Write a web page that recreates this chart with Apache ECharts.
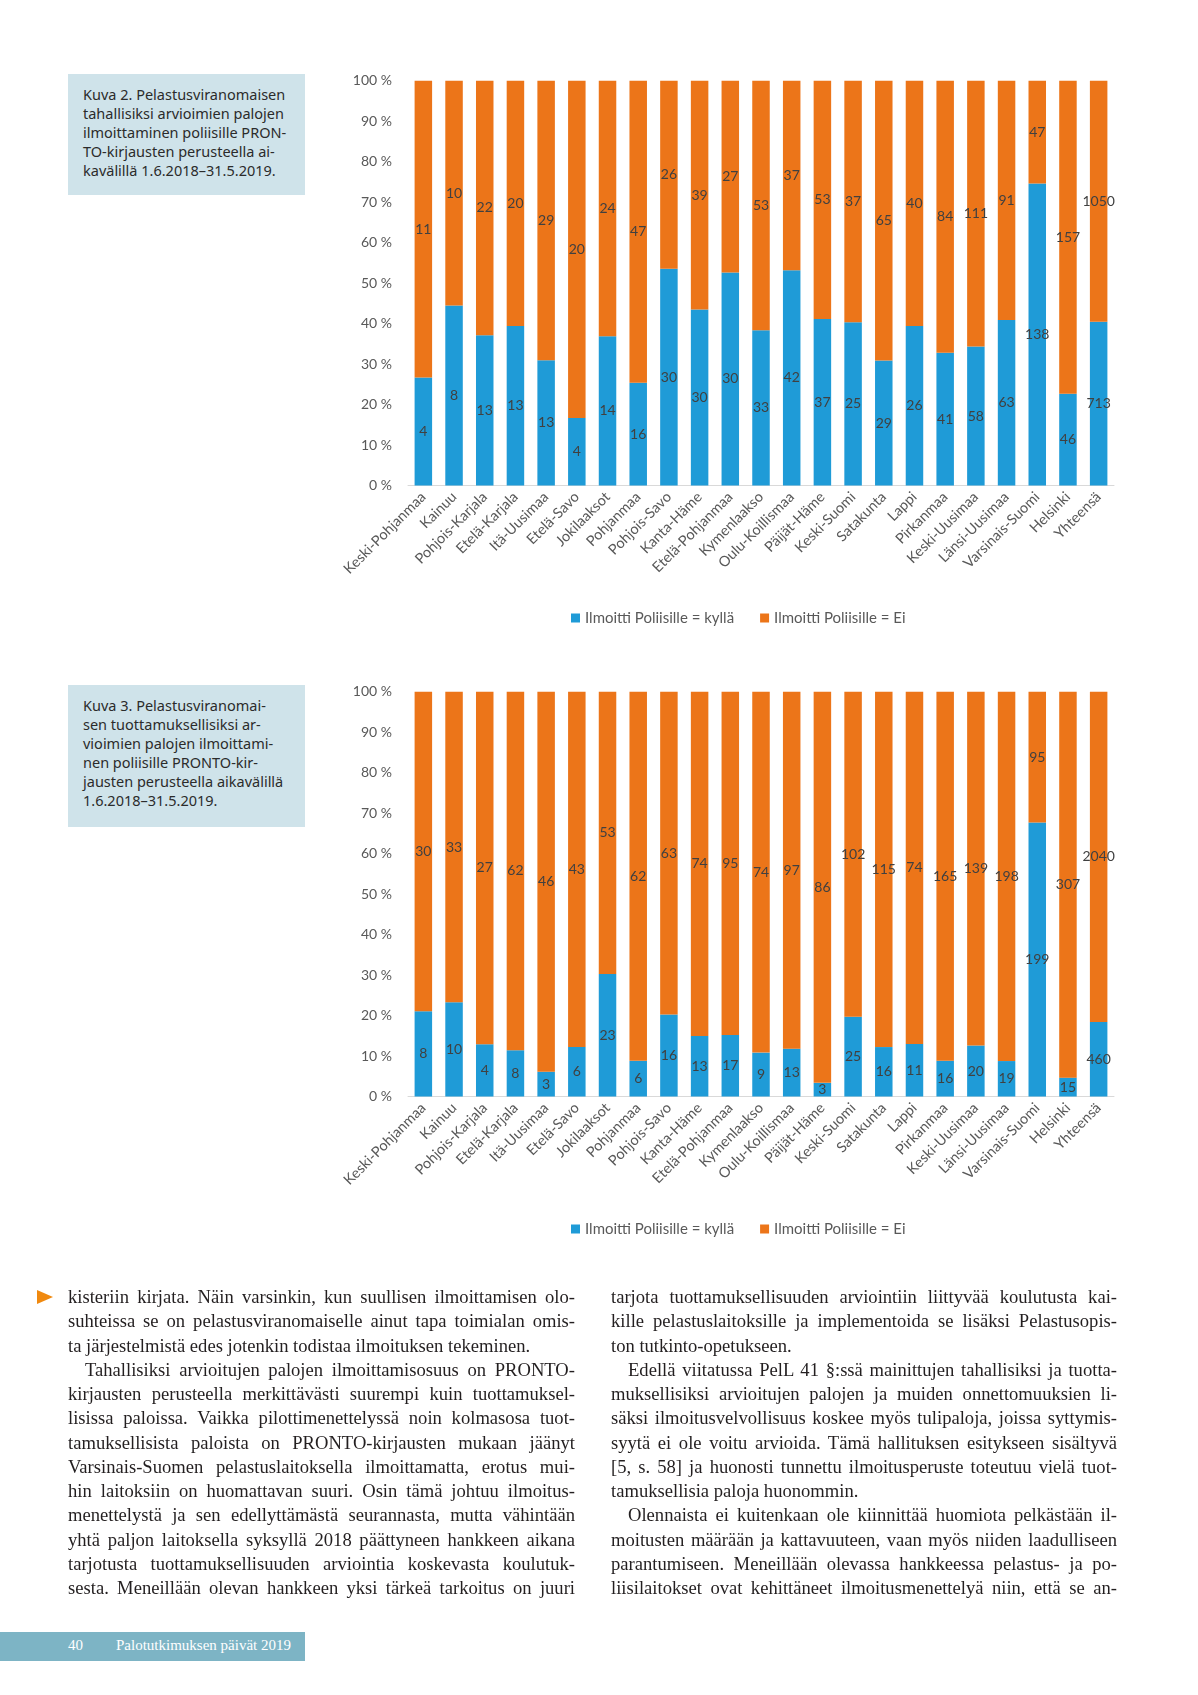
<!DOCTYPE html>
<html>
<head>
<meta charset="utf-8">
<script src="https://cdn.jsdelivr.net/npm/echarts@6/dist/echarts.min.js"></script>
<style>
  html, body { margin:0; padding:0; background:#fff; }
  #page { position:relative; width:1198px; height:1695px; overflow:hidden; background:#fff; }
  #chart { position:absolute; left:0; top:0; width:1198px; height:1695px; }
  .cap { position:absolute; left:68px; width:237px; background:#cfe3ea; box-sizing:border-box;
         padding:11px 0 0 15px; font-family:"Noto Sans", "Open Sans", sans-serif; font-size:14.5px;
         line-height:19px; color:#2b2b2b; white-space:pre; }
  .col { position:absolute; top:1285px; font-family:"Liberation Serif", serif; font-size:18.6px;
         line-height:24.25px; color:#231f20; }
  .col div { white-space:nowrap; }
  .col .j { text-align:justify; text-align-last:justify; }
  .col .l { text-align:left; }
  .col .ind { text-indent:17px; }
  #arrow { position:absolute; left:37px; top:1290px; width:0; height:0;
           border-top:7px solid transparent; border-bottom:7px solid transparent; border-left:16px solid #f0890f; }
  #footer { position:absolute; left:0; top:1632px; width:305px; height:29px; background:#7db4c5; }
  #footer span { position:absolute; top:5px; color:#fff; font-family:"Liberation Serif", serif; font-size:15px; }
</style>
</head>
<body>
<div id="page">
  <div id="chart"></div>
  <div class="cap" style="top:74px;height:121px;">Kuva 2. Pelastusviranomaisen
tahallisiksi arvioimien palojen
ilmoittaminen poliisille PRON-
TO-kirjausten perusteella ai-
kavälillä 1.6.2018–31.5.2019.</div>
  <div class="cap" style="top:685px;height:142px;">Kuva 3. Pelastusviranomai-
sen tuottamuksellisiksi ar-
vioimien palojen ilmoittami-
nen poliisille PRONTO-kir-
jausten perusteella aikavälillä
1.6.2018–31.5.2019.</div>
  <div id="arrow"></div>
  <div class="col" style="left:68px;width:507px;">
    <div class="j">kisteriin kirjata. Näin varsinkin, kun suullisen ilmoittamisen olo-</div>
    <div class="j">suhteissa se on pelastusviranomaiselle ainut tapa toimialan omis-</div>
    <div class="l">ta järjestelmistä edes jotenkin todistaa ilmoituksen tekeminen.</div>
    <div class="j ind">Tahallisiksi arvioitujen palojen ilmoittamisosuus on PRONTO-</div>
    <div class="j">kirjausten perusteella merkittävästi suurempi kuin tuottamuksel-</div>
    <div class="j">lisissa paloissa. Vaikka pilottimenettelyssä noin kolmasosa tuot-</div>
    <div class="j">tamuksellisista paloista on PRONTO-kirjausten mukaan jäänyt</div>
    <div class="j">Varsinais-Suomen pelastuslaitoksella ilmoittamatta, erotus mui-</div>
    <div class="j">hin laitoksiin on huomattavan suuri. Osin tämä johtuu ilmoitus-</div>
    <div class="j">menettelystä ja sen edellyttämästä seurannasta, mutta vähintään</div>
    <div class="j">yhtä paljon laitoksella syksyllä 2018 päättyneen hankkeen aikana</div>
    <div class="j">tarjotusta tuottamuksellisuuden arviointia koskevasta koulutuk-</div>
    <div class="j">sesta. Meneillään olevan hankkeen yksi tärkeä tarkoitus on juuri</div>
  </div>
  <div class="col" style="left:611px;width:506px;">
    <div class="j">tarjota tuottamuksellisuuden arviointiin liittyvää koulutusta kai-</div>
    <div class="j">kille pelastuslaitoksille ja implementoida se lisäksi Pelastusopis-</div>
    <div class="l">ton tutkinto-opetukseen.</div>
    <div class="j ind">Edellä viitatussa PelL 41 §:ssä mainittujen tahallisiksi ja tuotta-</div>
    <div class="j">muksellisiksi arvioitujen palojen ja muiden onnettomuuksien li-</div>
    <div class="j">säksi ilmoitusvelvollisuus koskee myös tulipaloja, joissa syttymis-</div>
    <div class="j">syytä ei ole voitu arvioida. Tämä hallituksen esitykseen sisältyvä</div>
    <div class="j">[5, s. 58] ja huonosti tunnettu ilmoitusperuste toteutuu vielä tuot-</div>
    <div class="l">tamuksellisia paloja huonommin.</div>
    <div class="j ind">Olennaista ei kuitenkaan ole kiinnittää huomiota pelkästään il-</div>
    <div class="j">moitusten määrään ja kattavuuteen, vaan myös niiden laadulliseen</div>
    <div class="j">parantumiseen. Meneillään olevassa hankkeessa pelastus- ja po-</div>
    <div class="j">liisilaitokset ovat kehittäneet ilmoitusmenettelyä niin, että se an-</div>
  </div>
  <div id="footer"><span style="left:68px;">40</span><span style="left:116px;">Palotutkimuksen päivät 2019</span></div>
</div>
<script>
const categories = ['Keski-Pohjanmaa','Kainuu','Pohjois-Karjala','Etelä-Karjala','Itä-Uusimaa','Etelä-Savo','Jokilaaksot','Pohjanmaa','Pohjois-Savo','Kanta-Häme','Etelä-Pohjanmaa','Kymenlaakso','Oulu-Koillismaa','Päijät-Häme','Keski-Suomi','Satakunta','Lappi','Pirkanmaa','Keski-Uusimaa','Länsi-Uusimaa','Varsinais-Suomi','Helsinki','Yhteensä'];
// Kuva 2: tahallisiksi arvioidut palot
const kylla2 = [4,8,13,13,13,4,14,16,30,30,30,33,42,37,25,29,26,41,58,63,138,46,713];
const ei2    = [11,10,22,20,29,20,24,47,26,39,27,53,37,53,37,65,40,84,111,91,47,157,1050];
// Kuva 3: tuottamuksellisiksi arvioidut palot
const kylla3 = [8,10,4,8,3,6,23,6,16,13,17,9,13,3,25,16,11,16,20,19,199,15,460];
const ei3    = [30,33,27,62,46,43,53,62,63,74,95,74,97,86,102,115,74,165,139,198,95,307,2040];
const seriesNames = ['Ilmoitti Poliisille = kyllä', 'Ilmoitti Poliisille = Ei'];
const yTickMax = 100, yTickStep = 10;

const BLUE = '#1f9bd7', ORANGE = '#ec7519';
const share = (a, b) => a.map((v, i) => v / (v + b[i]) * 100);

const gridTops = [80.7, 691.7];
const datasets = [[kylla2, ei2], [kylla3, ei3]];

const option = {
  animation: false,
  textStyle: { fontFamily: 'Lato' },
  grid: gridTops.map(t => ({ left: 408, top: t, width: 706, height: 404.8 })),
  legend: gridTops.map((t, i) => ({
    data: seriesNames, left: 566, top: t + 404.8 + 120, icon: 'rect',
    itemWidth: 9, itemHeight: 9, itemGap: 26,
    textStyle: { color: '#595959', fontSize: 15, fontFamily: 'Lato' }
  })),
  xAxis: gridTops.map((t, i) => ({
    type: 'category', gridIndex: i, data: categories,
    axisTick: { show: false },
    axisLine: { lineStyle: { color: '#d9d9d9', width: 1 } },
    axisLabel: { interval: 0, rotate: 45, margin: 9, color: '#595959', fontSize: 14.5, fontFamily: 'Lato' }
  })),
  yAxis: gridTops.map((t, i) => ({
    type: 'value', gridIndex: i, min: 0, max: yTickMax, interval: yTickStep,
    splitLine: { show: false }, axisLine: { show: false }, axisTick: { show: false },
    axisLabel: { formatter: '{value} %', margin: 16, color: '#595959', fontSize: 14, fontFamily: 'Lato' }
  })),
  series: []
};

datasets.forEach(([yes, no], g) => {
  [[yes, BLUE], [no, ORANGE]].forEach(([arr, col], k) => {
    option.series.push({
      type: 'bar', name: seriesNames[k], stack: 'g' + g,
      xAxisIndex: g, yAxisIndex: g, barWidth: 17.5,
      itemStyle: { color: col },
      data: share(arr, k === 0 ? no : yes),
      label: {
        show: true, position: 'inside', color: '#404040', fontSize: 14, fontFamily: 'Lato',
        textBorderWidth: 0,
        formatter: p => String(arr[p.dataIndex])
      }
    });
  });
});

const chart = echarts.init(document.getElementById('chart'), null, { renderer: 'canvas' });
chart.setOption(option);
</script>
</body>
</html>
